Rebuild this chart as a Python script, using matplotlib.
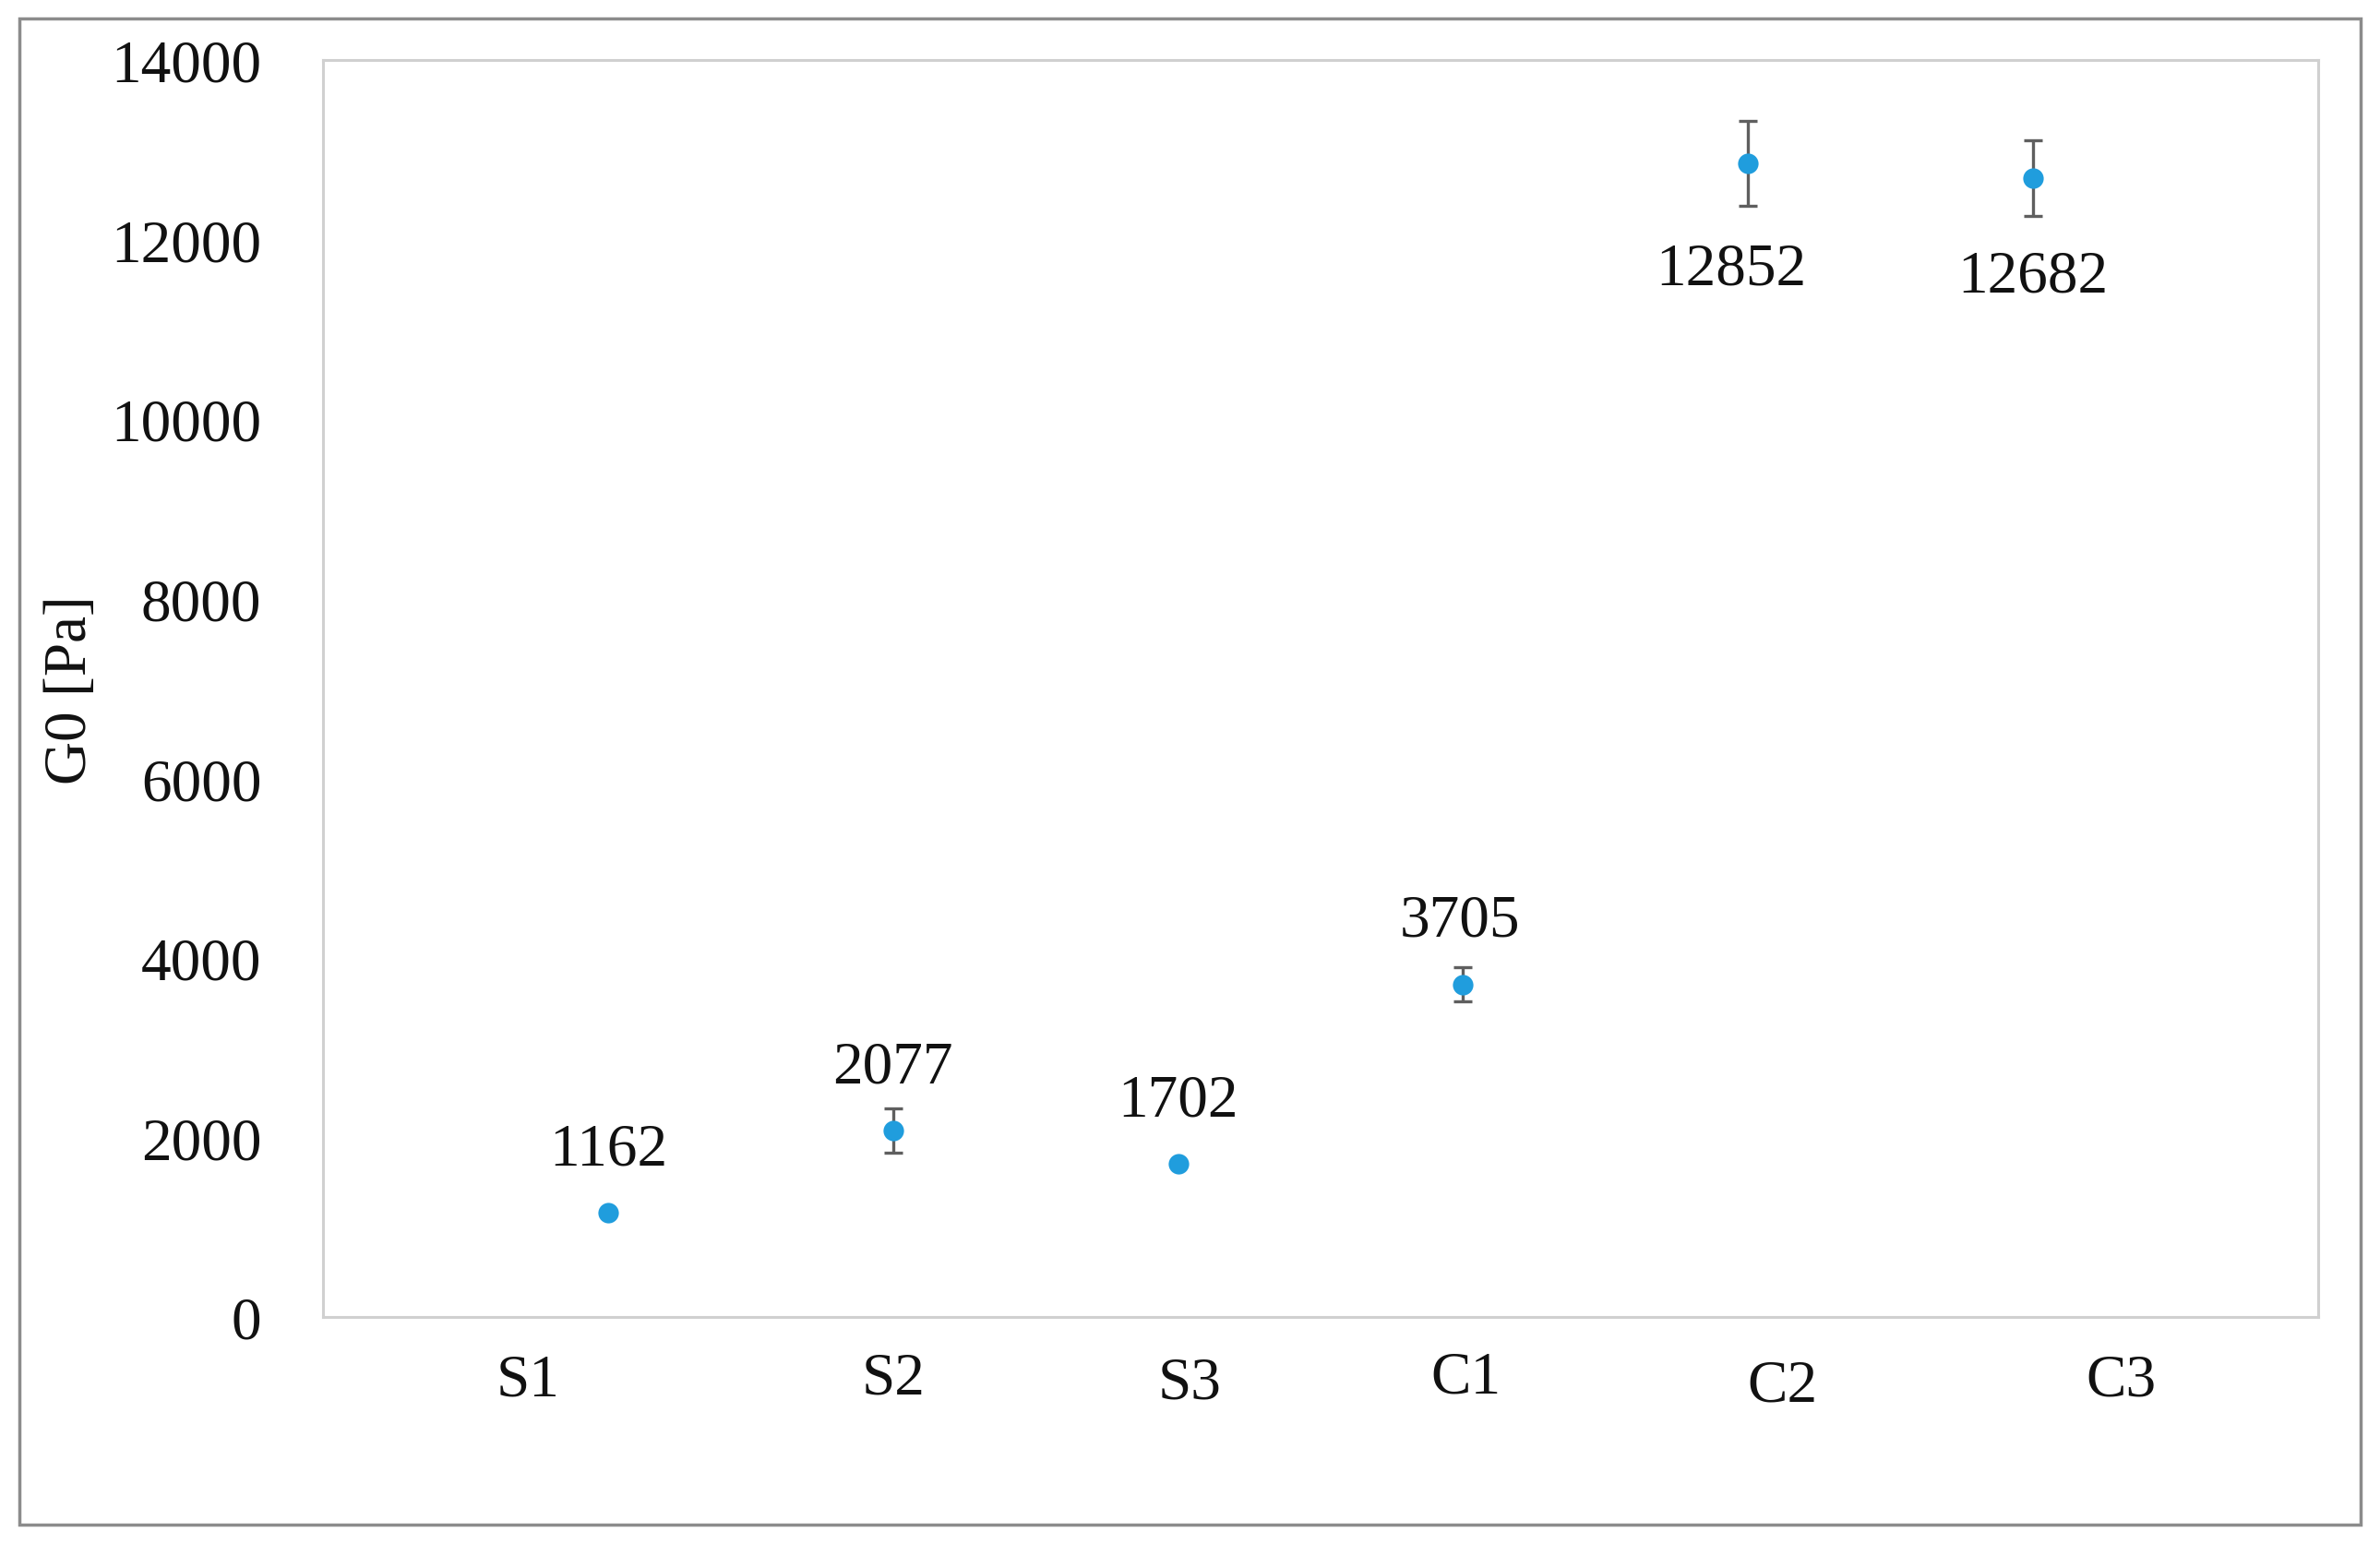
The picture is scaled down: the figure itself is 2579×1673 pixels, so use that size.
import matplotlib
matplotlib.use("Agg")
import matplotlib.pyplot as plt
from matplotlib.patches import Rectangle

# ---- data ----
categories = ["S1", "S2", "S3", "C1", "C2", "C3"]
g0_values = [1162, 2077, 1702, 3705, 12852, 12682]
g0_errors = [0, 245, 0, 186, 474, 423]
value_labels = ["1162", "2077", "1702", "3705", "12852", "12682"]
y_ticks = [0, 2000, 4000, 6000, 8000, 10000, 12000, 14000]

# ---- layout constants (not data) ----
cat_label_x = [0.72, 2.0, 3.04, 4.01, 5.12, 6.31]
cat_label_dy = [-69, -67, -72, -66, -75, -69]   # pixels below axis
label_dy = [68, 68, 69, 69, -115, -107]          # pixel offsets of value labels
label_dx = [0, 0, 0, -3, -18, 0]

W, H = 2579, 1674
DPI = 100
plt.rcParams['font.family'] = ['Liberation Serif', 'DejaVu Serif']
FS = 47

fig = plt.figure(figsize=(W / DPI, H / DPI), dpi=DPI)
fig.subplots_adjust(left=350 / W, right=2512 / W, top=1 - 66 / H, bottom=1 - 1428 / H)
ax = fig.add_subplot(111)

xs = list(range(1, len(categories) + 1))
ax.errorbar(xs, g0_values, yerr=g0_errors, fmt='none', ecolor='#5f5f5f',
            elinewidth=2.4, capsize=7, capthick=2.4, zorder=2)
ax.plot(xs, g0_values, 'o', color='#209ddd', markersize=16, markeredgewidth=0, zorder=3)

for x, v, lab, dy, dx in zip(xs, g0_values, value_labels, label_dy, label_dx):
    ax.annotate(lab, (x, v), xytext=(dx, dy), textcoords='offset pixels',
                ha='center', va='center', fontsize=FS, color='#111111')

ax.set_xlim(0, 7)
ax.set_ylim(0, 14000)
ax.set_yticks(y_ticks)
ax.set_yticklabels([str(t) for t in y_ticks], fontsize=FS, color='#111111')
ax.tick_params(axis='y', length=0, pad=48)
ax.set_xticks([])

trans = ax.get_xaxis_transform()
axh = 1428 - 66
for cx, cat, dy in zip(cat_label_x, categories, cat_label_dy):
    ax.text(cx, dy / axh, cat, transform=trans, ha='center', va='center',
            fontsize=FS, color='#111111')

for s in ax.spines.values():
    s.set_color('#d0d0d0')
    s.set_linewidth(2.2)

fig.text(77 / W, 1 - 748 / H, "G0 [Pa]", rotation=90, ha='center', va='center',
         fontsize=FS, color='#111111')

# outer frame
fig.patches.append(Rectangle((21 / W, 1 - 1653 / H), (2558 - 21) / W, (1653 - 21) / H,
                             transform=fig.transFigure, fill=False,
                             edgecolor='#8c8c8c', linewidth=2.5))

fig.savefig("out.png", dpi=DPI, facecolor='white')
